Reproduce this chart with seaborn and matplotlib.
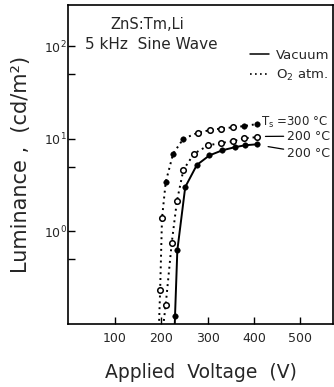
import numpy as np
import pandas as pd
import matplotlib
matplotlib.use('Agg')
import matplotlib.pyplot as plt
import matplotlib.ticker as mticker
from matplotlib.lines import Line2D
import seaborn as sns

# Ts = 300 C, O2 atmosphere (dotted, mixed open / filled points)
a_volt = [198, 202, 210, 226, 248, 279, 305, 330, 355, 378, 406]
a_lum = [0.23, 1.37, 3.4, 6.9, 10.0, 11.6, 12.4, 12.9, 13.3, 13.7, 14.4]
a_filled = [0, 0, 1, 1, 1, 0, 0, 0, 0, 1, 1]
a_base = 195

# Ts = 200 C, O2 atmosphere (dotted, open points)
b_volt = [210, 223, 234, 248, 271, 302, 330, 355, 378, 406]
b_lum = [0.16, 0.75, 2.1, 4.6, 6.9, 8.5, 9.0, 9.4, 10.1, 10.4]
b_base = 203

# Ts = 200 C, vacuum (solid, filled points)
c_volt = [230, 235, 252, 277, 304, 332, 359, 381, 406]
c_lum = [0.12, 0.62, 3.0, 5.2, 6.6, 7.5, 8.1, 8.5, 8.7]
c_base = 229

x_ticks = [100, 200, 300, 400, 500]
y_ticks = [1, 10, 100]
y_minor = [0.5, 5, 50]

sns.set_style('ticks')
plt.rcParams['font.family'] = ['DejaVu Sans']
plt.rcParams['mathtext.default'] = 'regular'

fig = plt.figure(figsize=(3.34, 3.87), dpi=100)
ax = fig.add_axes([0.204, 0.163, 0.793, 0.824])

dots = (0, (1, 2))


def curve(volt, lum, base, style, lw):
    df = pd.DataFrame({'V': [base] + volt, 'L': [0.08] + lum})
    sns.lineplot(data=df, x='V', y='L', sort=False, color='black',
                 linewidth=lw, linestyle=style, ax=ax)


curve(a_volt, a_lum, a_base, dots, 1.4)
curve(b_volt, b_lum, b_base, dots, 1.4)
curve(c_volt, c_lum, c_base, '-', 1.4)

pts_a = pd.DataFrame({'V': a_volt, 'L': a_lum, 'f': a_filled})
pts_b = pd.DataFrame({'V': b_volt, 'L': b_lum})
pts_c = pd.DataFrame({'V': c_volt, 'L': c_lum})

sns.scatterplot(data=pts_a[pts_a.f == 0], x='V', y='L', marker='o', s=16,
                facecolor='white', edgecolor='black', linewidth=1.1, ax=ax, zorder=3)
sns.scatterplot(data=pts_a[pts_a.f == 1], x='V', y='L', marker='o', s=16,
                color='black', edgecolor='black', ax=ax, zorder=3)
sns.scatterplot(data=pts_b, x='V', y='L', marker='o', s=16,
                facecolor='white', edgecolor='black', linewidth=1.1, ax=ax, zorder=3)
sns.scatterplot(data=pts_c, x='V', y='L', marker='o', s=16,
                color='black', edgecolor='black', ax=ax, zorder=3)

ax.set_yscale('log')
ax.set_xlim(0, 570)
ax.set_ylim(0.099, 280)
ax.set_xticks(x_ticks)
ax.set_xticklabels([str(v) for v in x_ticks], fontsize=9)
ax.yaxis.set_major_locator(mticker.FixedLocator(y_ticks))
ax.yaxis.set_minor_locator(mticker.FixedLocator(y_minor))
ax.set_yticklabels(['$10^{0}$', '$10^{1}$', '$10^{2}$'], fontsize=9)
ax.yaxis.set_minor_formatter(mticker.NullFormatter())
ax.tick_params(axis='both', which='both', direction='in', length=5, width=1,
               color='black')
ax.tick_params(axis='x', pad=6)
ax.tick_params(axis='y', pad=1)
for sp in ax.spines.values():
    sp.set_color('black')
    sp.set_linewidth(1.2)

ax.set_xlabel('Applied  Voltage  (V)', fontsize=13.5, labelpad=13)
ax.set_ylabel('Luminance ,  (cd/m²)', fontsize=15)
ax.yaxis.set_label_coords(-0.14, 0.5)

ax.text(0.16, 0.94, 'ZnS:Tm,Li', transform=ax.transAxes, fontsize=10.5,
        ha='left', va='center')
ax.text(0.064, 0.875, '5 kHz  Sine Wave', transform=ax.transAxes, fontsize=11,
        ha='left', va='center')

handles = [Line2D([], [], color='black', lw=1.1),
           Line2D([], [], color='black', lw=1.2, linestyle=dots)]
ax.legend(handles, ['Vacuum', 'O$_2$ atm.'], loc='upper left',
          bbox_to_anchor=(0.685, 0.862), frameon=False, fontsize=9.5,
          handlelength=1.5, handletextpad=0.5, labelspacing=0.45,
          borderpad=0, borderaxespad=0)

ax.text(0.73, 0.633, 'T$_s$ =300 °C', transform=ax.transAxes, fontsize=8.5,
        ha='left', va='center')
ax.annotate('200 °C', xy=(0.745, 0.588), xytext=(0.826, 0.589),
            textcoords='axes fraction', xycoords='axes fraction', fontsize=9,
            ha='left', va='center',
            arrowprops=dict(arrowstyle='-', color='black', lw=0.9,
                            shrinkA=0, shrinkB=0))
ax.annotate('200 °C', xy=(0.755, 0.556), xytext=(0.826, 0.535),
            textcoords='axes fraction', xycoords='axes fraction', fontsize=9,
            ha='left', va='center',
            arrowprops=dict(arrowstyle='-', color='black', lw=0.9,
                            shrinkA=0, shrinkB=0))

fig.savefig('out.png', dpi=100)
